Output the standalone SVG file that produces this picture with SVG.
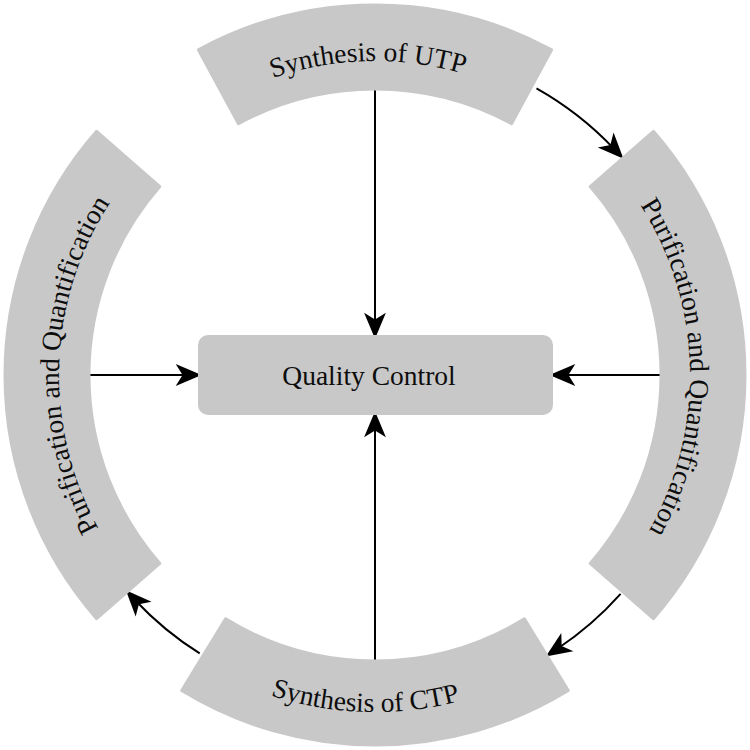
<svg xmlns="http://www.w3.org/2000/svg" width="750" height="750" viewBox="0 0 750 750">
<style>
.seg{fill:#c8c8c8;stroke:#c8c8c8;stroke-width:3;stroke-linejoin:round}
.lbl{font-family:"Liberation Serif","Times New Roman",serif;font-size:27.5px;fill:#0d0d0d}
.con{fill:none;stroke:#000;stroke-width:2}
</style>
<defs>
<marker id="ah" markerUnits="userSpaceOnUse" markerWidth="30" markerHeight="30" viewBox="-10 -10 22 20" refX="0" refY="0" orient="auto">
<path d="M10,0 L-9,-8 L-4,0 L-9,8 Z" fill="#000"/>
</marker>
<path id="tp-top" d="M99.6,224.2 A314,314 0 0 1 643.3,211.9"/>
<path id="tp-right" d="M525.3,98.2 A315,315 0 0 1 539.6,643.6"/>
<path id="tp-bottom" d="M78.3,534.8 A337,337 0 0 0 661.7,552.1"/>
<path id="tp-left" d="M207.5,643 A316,316 0 0 1 226.6,96"/>
</defs>
<rect width="750" height="750" fill="#fff"/>
<g id="connectors">
<line class="con" x1="375" y1="89" x2="375" y2="325" marker-end="url(#ah)"/>
<line class="con" x1="89" y1="375" x2="188" y2="375" marker-end="url(#ah)"/>
<line class="con" x1="661" y1="375" x2="563" y2="375" marker-end="url(#ah)"/>
<line class="con" x1="375" y1="661" x2="375" y2="425" marker-end="url(#ah)"/>
<path class="con" d="M536.5,88.4 A329,329 0 0 1 614.1,148.9" marker-end="url(#ah)"/>
<path class="con" d="M620.6,593.9 A329,329 0 0 1 557.1,649" marker-end="url(#ah)"/>
<path class="con" d="M199.7,653.4 A329,329 0 0 1 135.2,600.2" marker-end="url(#ah)"/>
</g>
<g id="synthesis-utp">
<path class="seg" d="M198.4,49.8 A370,370 0 0 1 551.6,49.8 L511.5,123.7 A286,286 0 0 0 238.5,123.7 Z"/>
<text class="lbl"><textPath href="#tp-top" startOffset="50%" text-anchor="middle">Synthesis of UTP</textPath></text>
</g>
<g id="purification-right">
<path class="seg" d="M653.4,131.3 A370,370 0 0 1 653.4,618.7 L590.2,563.4 A286,286 0 0 0 590.2,186.6 Z"/>
<text class="lbl"><textPath href="#tp-right" startOffset="50%" text-anchor="middle">Purification and Quantification</textPath></text>
</g>
<g id="synthesis-ctp">
<path class="seg" d="M568.3,690.5 A370,370 0 0 1 181.7,690.5 L225.6,618.8 A286,286 0 0 0 524.4,618.8 Z"/>
<text class="lbl"><textPath href="#tp-bottom" startOffset="50%" text-anchor="middle">Synthesis of CTP</textPath></text>
</g>
<g id="purification-left">
<path class="seg" d="M96.6,618.7 A370,370 0 0 1 96.6,131.3 L159.8,186.6 A286,286 0 0 0 159.8,563.4 Z"/>
<text class="lbl"><textPath href="#tp-left" startOffset="50%" text-anchor="middle">Purification and Quantification</textPath></text>
</g>
<g id="quality-control">
<rect x="198" y="335" width="355" height="80" rx="10" fill="#c8c8c8"/>
<text class="lbl" x="369" y="385" text-anchor="middle">Quality Control</text>
</g>
</svg>
